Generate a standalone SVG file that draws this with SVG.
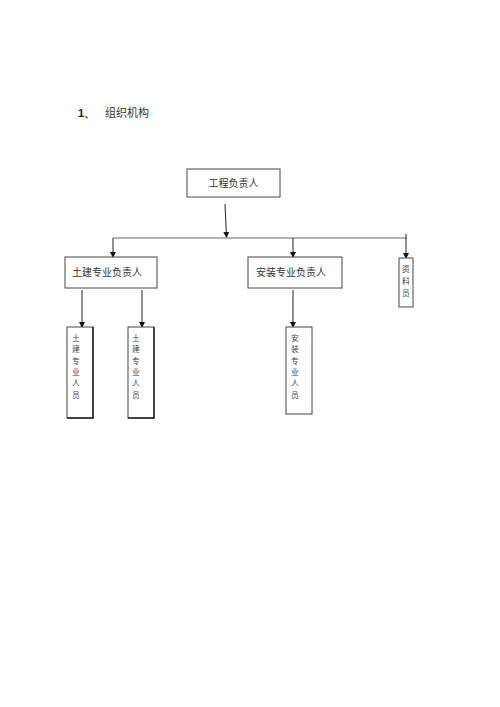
<svg xmlns="http://www.w3.org/2000/svg" width="500" height="707" viewBox="0 0 500 707">
<defs>
<marker id="ah" markerWidth="6" markerHeight="6" refX="5" refY="3" orient="auto" markerUnits="userSpaceOnUse">
<path d="M0,0 L6,3 L0,6 z" fill="#111"/>
</marker>
<style>
.box{fill:#fff;stroke:#444;stroke-width:1}
.sh{stroke:#222;stroke-width:1.5;fill:none}
.t{font-family:"Noto Sans CJK SC","Liberation Sans",sans-serif;font-size:10px;fill:#333}
.v{font-family:"Noto Sans CJK SC","Liberation Sans",sans-serif;font-size:7.8px;fill:#444;text-anchor:middle}
.c{stroke:#222;stroke-width:1;fill:none}
</style>
</defs>
<rect width="500" height="707" fill="#fff"/>
<g id="title">
<text x="78" y="117" font-family="Liberation Sans,sans-serif" font-size="11" font-weight="bold" fill="#222">1、</text>
<text x="105" y="117" class="t" style="font-size:11px">组织机构</text>
</g>
<g id="connectors">
<line class="c" x1="225" y1="204" x2="226.5" y2="237" marker-end="url(#ah)"/>
<line class="c" x1="113" y1="238" x2="407" y2="238" style="stroke:#666"/>
<line class="c" x1="113" y1="238" x2="113" y2="257" marker-end="url(#ah)"/>
<line class="c" x1="293" y1="238" x2="293" y2="257" marker-end="url(#ah)"/>
<line class="c" x1="406" y1="234" x2="406" y2="258" marker-end="url(#ah)"/>
<line class="c" x1="82" y1="290" x2="82" y2="327" marker-end="url(#ah)"/>
<line class="c" x1="142" y1="290" x2="142" y2="327" marker-end="url(#ah)"/>
<line class="c" x1="293" y1="290" x2="293" y2="327" marker-end="url(#ah)"/>
</g>
<g id="n-top">
<rect class="box" x="187" y="169" width="93" height="28"/>
<text class="t" x="233.5" y="187" text-anchor="middle">工程负责人</text>
</g>
<g id="n-tujian">
<rect class="box" x="65" y="257" width="92" height="31"/>
<text class="t" x="72" y="276">土建专业负责人</text>
</g>
<g id="n-anzhuang">
<rect class="box" x="248" y="257" width="94" height="31"/>
<text class="t" x="256" y="276">安装专业负责人</text>
</g>
<g id="n-ziliao">
<rect class="box" x="399" y="258" width="14" height="49"/>
<text class="v" x="406" y="272">资</text>
<text class="v" x="406" y="284">料</text>
<text class="v" x="406" y="296">员</text>
</g>
<g id="n-tj1">
<rect class="box" x="67" y="327" width="26" height="91"/>
<path class="sh" d="M93,327 V418 H67"/>
<text class="v" x="76" y="341">土</text>
<text class="v" x="76" y="352.3">建</text>
<text class="v" x="76" y="363.6">专</text>
<text class="v" x="76" y="374.9">业</text>
<text class="v" x="76" y="386.2">人</text>
<text class="v" x="76" y="397.5">员</text>
</g>
<g id="n-tj2">
<rect class="box" x="128" y="327" width="26" height="91"/>
<path class="sh" d="M154,327 V418 H128"/>
<text class="v" x="136" y="341">土</text>
<text class="v" x="136" y="352.3">建</text>
<text class="v" x="136" y="363.6">专</text>
<text class="v" x="136" y="374.9">业</text>
<text class="v" x="136" y="386.2">人</text>
<text class="v" x="136" y="397.5">员</text>
</g>
<g id="n-az">
<rect class="box" x="286" y="327" width="26" height="87"/>
<text class="v" x="295" y="341">安</text>
<text class="v" x="295" y="352.3">装</text>
<text class="v" x="295" y="363.6">专</text>
<text class="v" x="295" y="374.9">业</text>
<text class="v" x="295" y="386.2">人</text>
<text class="v" x="295" y="397.5">员</text>
</g>
</svg>
